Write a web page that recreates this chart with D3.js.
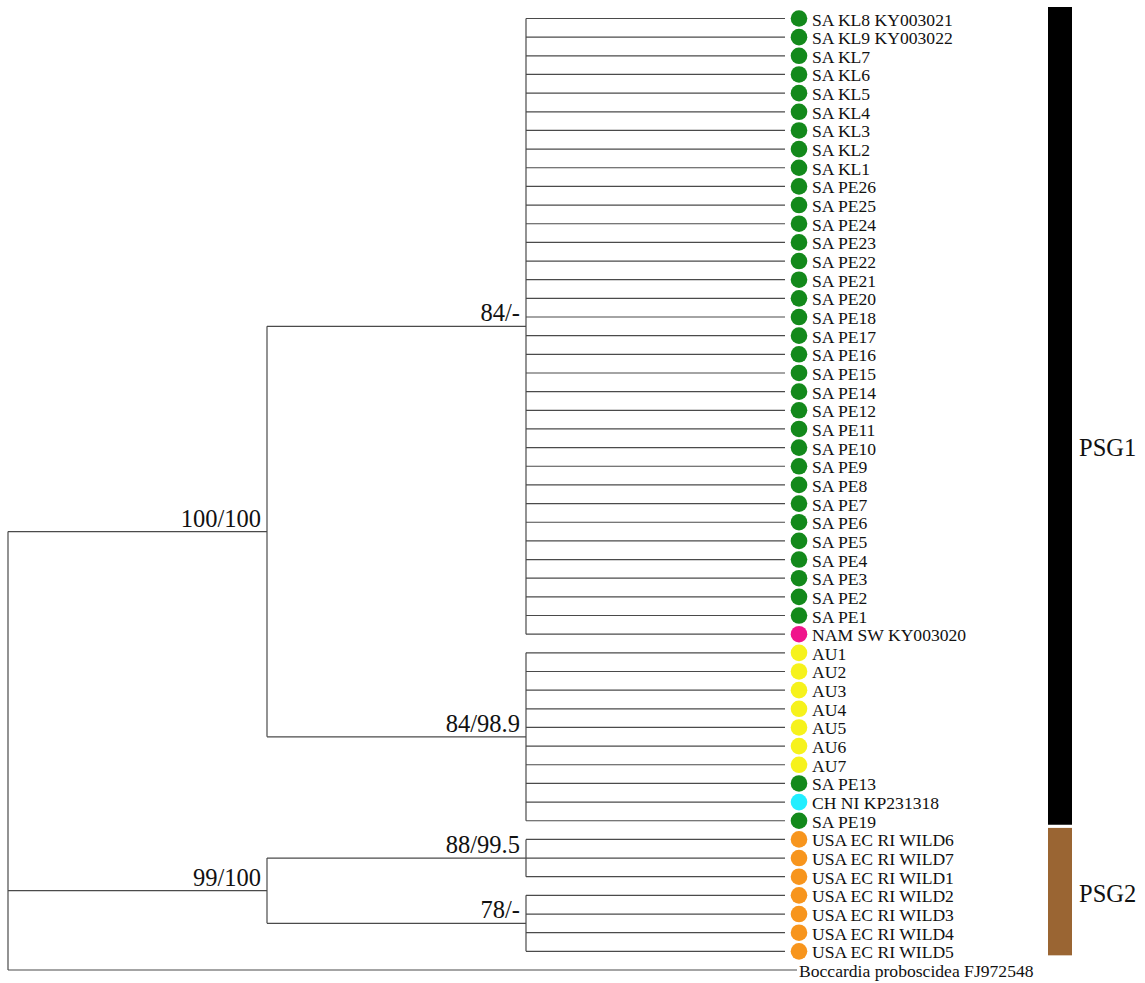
<!DOCTYPE html>
<html>
<head>
<meta charset="utf-8">
<script src="https://cdn.jsdelivr.net/npm/d3@7"></script>
<style>
  html, body { margin: 0; padding: 0; background: #fff; }
  svg { display: block; }
  text { font-family: "Liberation Serif", "Times New Roman", serif; fill: #111; }
</style>
</head>
<body>
<svg id="chart" width="1145" height="983"></svg>
<script>
// ---------- DATA ----------
const cladeSA = ["SA KL8 KY003021","SA KL9 KY003022","SA KL7","SA KL6","SA KL5","SA KL4","SA KL3","SA KL2","SA KL1",
  "SA PE26","SA PE25","SA PE24","SA PE23","SA PE22","SA PE21","SA PE20","SA PE18","SA PE17","SA PE16","SA PE15",
  "SA PE14","SA PE12","SA PE11","SA PE10","SA PE9","SA PE8","SA PE7","SA PE6","SA PE5","SA PE4","SA PE3","SA PE2","SA PE1",
  "NAM SW KY003020"];
const cladeSAGroups = Array(33).fill("SA").concat(["NAM"]);
const cladeAU = ["AU1","AU2","AU3","AU4","AU5","AU6","AU7","SA PE13","CH NI KP231318","SA PE19"];
const cladeAUGroups = ["AU","AU","AU","AU","AU","AU","AU","SA","CH","SA"];
const cladeUSA1 = ["USA EC RI WILD6","USA EC RI WILD7","USA EC RI WILD1"];
const cladeUSA2 = ["USA EC RI WILD2","USA EC RI WILD3","USA EC RI WILD4","USA EC RI WILD5"];
const outgroup = "Boccardia proboscidea FJ972548";

const supportLabels = { psg1: "100/100", sa: "84/-", au: "84/98.9", psg2: "99/100", usa1: "88/99.5", usa2: "78/-" };
const groupColors = { SA: "#13891b", NAM: "#f0148c", AU: "#f6f21c", CH: "#22eeff", USA: "#f7951d" };

const psgNames = ["PSG1", "PSG2"];
const psgColors = ["#000000", "#9a6533"];
const psgFirstLeaf = [0, 44];
const psgLastLeaf = [43, 50];
const psgLabelAt = [23, 46.9];

// ---------- TREE ----------
const leafNode = (name, group) => ({ name, group });
const treeData = {
  name: "root", children: [
    { name: "psg1", support: supportLabels.psg1, children: [
      { name: "sa", support: supportLabels.sa, children: cladeSA.map((n, i) => leafNode(n, cladeSAGroups[i])) },
      { name: "au", support: supportLabels.au, children: cladeAU.map((n, i) => leafNode(n, cladeAUGroups[i])) }
    ]},
    { name: "psg2", support: supportLabels.psg2, children: [
      { name: "usa1", support: supportLabels.usa1, children: cladeUSA1.map(n => leafNode(n, "USA")) },
      { name: "usa2", support: supportLabels.usa2, children: cladeUSA2.map(n => leafNode(n, "USA")) }
    ]},
    { name: outgroup, group: null, outgroup: true }
  ]
};

const root = d3.hierarchy(treeData);
const leaves = root.leaves();

const x = d3.scaleLinear().domain([0, 3]).range([8, 785]);
const yLeaf = d3.scaleLinear().domain([0, leaves.length - 1]).range([18.5, 970]);

leaves.forEach((l, i) => { l.idx = i; l.py = yLeaf(i); l.px = x(3); });
root.eachAfter(n => {
  if (n.children) {
    n.px = x(n.depth);
    const ys = n.children.map(c => c.py);
    n.py = (d3.min(ys) + d3.max(ys)) / 2;
  }
});
const svg = d3.select("#chart");
const g = svg.append("g");

const lineColor = "#4a4a4a";
// vertical connectors
root.descendants().filter(n => n.children).forEach(n => {
  const ys = n.children.map(c => c.py);
  g.append("line")
    .attr("x1", n.px).attr("x2", n.px)
    .attr("y1", d3.min(ys)).attr("y2", d3.max(ys))
    .attr("stroke", lineColor).attr("stroke-width", 1.2);
});
// horizontal branches
root.descendants().filter(n => n.parent).forEach(n => {
  const xEnd = n.data.outgroup ? 797 : n.px;
  g.append("line")
    .attr("x1", n.parent.px).attr("x2", xEnd)
    .attr("y1", n.py).attr("y2", n.py)
    .attr("stroke", lineColor).attr("stroke-width", 1.2);
});
// support labels
root.descendants().filter(n => n.data.support).forEach(n => {
  g.append("text")
    .attr("x", n.px - 6).attr("y", n.py - 5)
    .attr("text-anchor", "end")
    .attr("font-size", 24.5)
    .text(n.data.support);
});
// leaf markers and labels
leaves.forEach(l => {
  if (l.data.group) {
    g.append("circle")
      .attr("cx", 799).attr("cy", l.py).attr("r", 8.3)
      .attr("fill", groupColors[l.data.group]);
    g.append("text").attr("x", 812).attr("y", l.py + 7)
      .attr("font-size", 17.6).text(l.data.name);
  } else {
    g.append("text").attr("x", 799).attr("y", l.py + 7)
      .attr("font-size", 17.6).text(l.data.name);
  }
});
// group bars
psgNames.forEach((name, i) => {
  const top = yLeaf(psgFirstLeaf[i]) - 11.5;
  const bot = yLeaf(psgLastLeaf[i]) + 4;
  g.append("rect")
    .attr("x", 1048).attr("y", top)
    .attr("width", 24).attr("height", bot - top)
    .attr("fill", psgColors[i]);
  g.append("text")
    .attr("x", 1079).attr("y", yLeaf(psgLabelAt[i]) + 8)
    .attr("font-size", 24.5)
    .text(name);
});
</script>
</body>
</html>
